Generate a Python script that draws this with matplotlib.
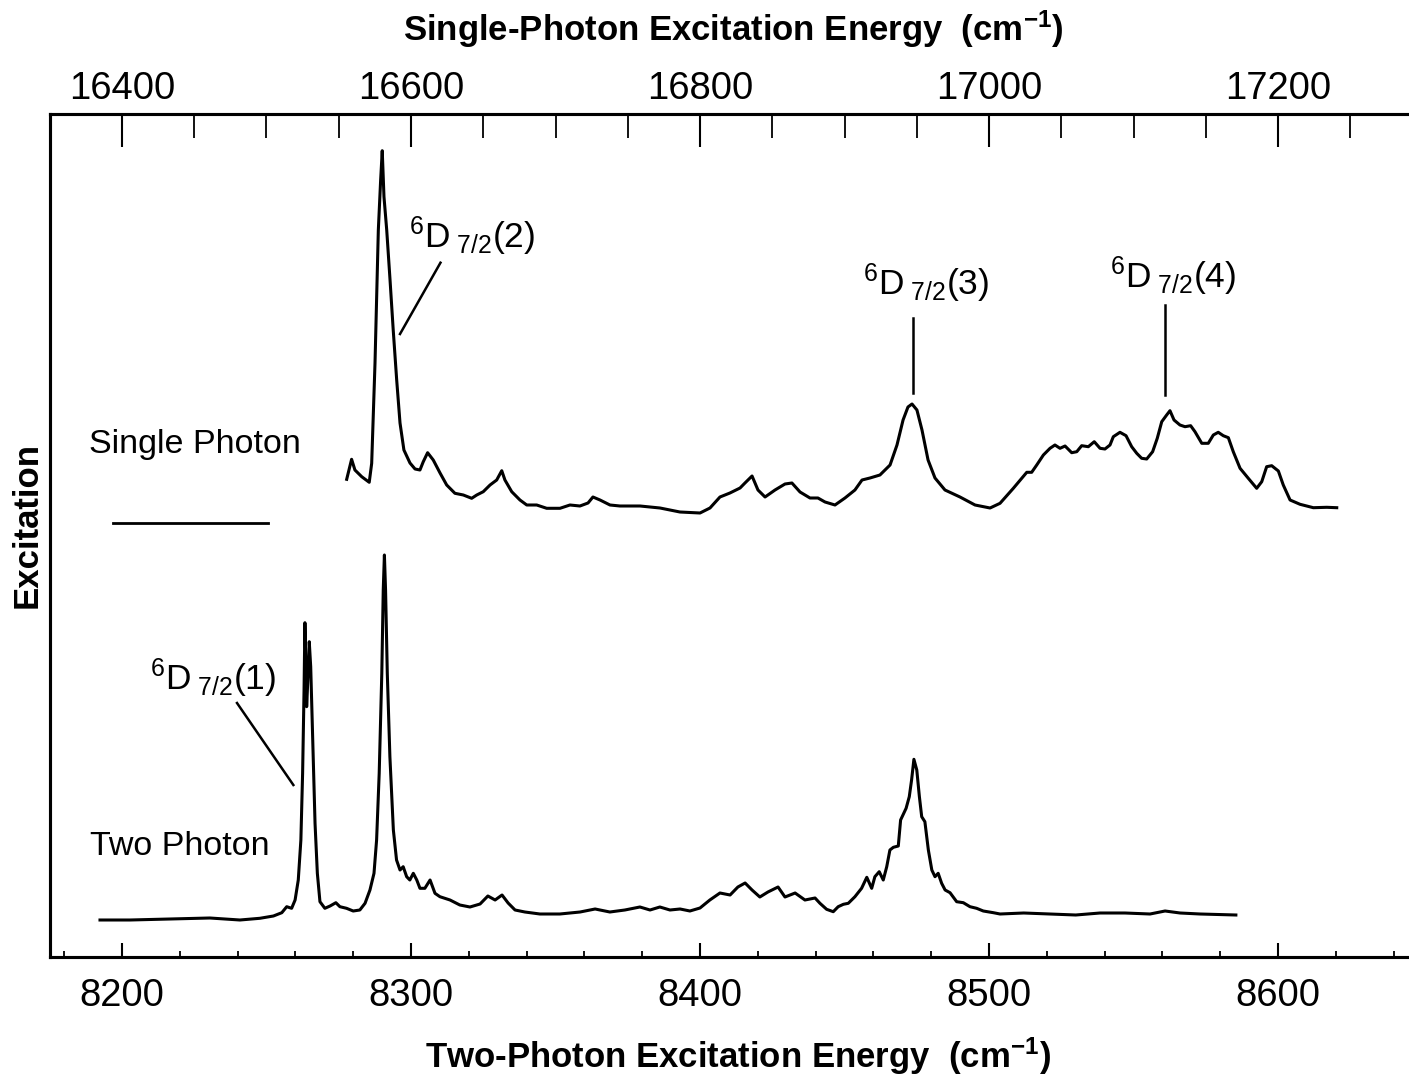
import numpy as np
import matplotlib
matplotlib.use('Agg')
import matplotlib.pyplot as plt
from matplotlib.ticker import FixedLocator

plt.rcParams['font.family'] = ['Liberation Sans', 'DejaVu Sans']
plt.rcParams['mathtext.fontset'] = 'custom'
plt.rcParams['mathtext.rm'] = 'Liberation Sans'
plt.rcParams['mathtext.default'] = 'regular'

# ---------------- data ----------------
# Single-photon spectrum: energy in cm-1 (single-photon scale), signal in arb. units
single_energy = [16555.5, 16558.9, 16561.2, 16565.9, 16571.1, 16572.8, 16575.1, 16577.4, 16579.0, 16580.1,
                 16581.3, 16583.2, 16585.5, 16587.7, 16590.1, 16592.4, 16595.1, 16599.3, 16602.8, 16606.2,
                 16608.5, 16611.5, 16615.4, 16620.1, 16624.7, 16630.4, 16636.2, 16642.0, 16645.5, 16650.0,
                 16654.7, 16659.3, 16662.8, 16665.0, 16669.7, 16675.4, 16680.1, 16687.0, 16693.9, 16703.1,
                 16710.0, 16716.9, 16722.5, 16725.9, 16730.8, 16737.7, 16744.6, 16758.5, 16772.3, 16786.1,
                 16800.0, 16806.9, 16813.8, 16820.7, 16827.7, 16831.1, 16836.0, 16840.1, 16845.0, 16851.9,
                 16858.8, 16863.6, 16869.2, 16876.1, 16881.6, 16886.5, 16893.4, 16900.3, 16907.2, 16912.1,
                 16917.6, 16924.5, 16931.5, 16936.3, 16940.5, 16943.9, 16946.7, 16950.1, 16953.6, 16957.8,
                 16962.6, 16969.5, 16979.9, 16990.3, 17000.7, 17007.6, 17016.8, 17026.1, 17029.5, 17033.0,
                 17037.6, 17042.2, 17045.6, 17049.1, 17052.6, 17057.2, 17060.7, 17064.1, 17068.7, 17072.8,
                 17076.8, 17080.2, 17083.7, 17086.0, 17090.6, 17094.8, 17098.7, 17102.2, 17105.6, 17109.1,
                 17113.2, 17116.4, 17119.5, 17122.9, 17125.2, 17128.0, 17132.1, 17135.6, 17139.5, 17142.5,
                 17147.2, 17151.7, 17155.2, 17158.6, 17162.1, 17165.6, 17169.0, 17173.7, 17179.4, 17185.2,
                 17188.7, 17192.1, 17195.6, 17200.2, 17203.6, 17208.3, 17215.2, 17224.4, 17233.7, 17240.6]
single_signal = [477.7, 497.7, 487.0, 480.3, 474.7, 493.7, 594.0, 727.0, 777.0, 806.3,
                 760.3, 727.0, 677.0, 627.0, 577.0, 534.0, 507.0, 494.0, 488.0, 487.0,
                 495.3, 504.3, 497.0, 484.0, 472.0, 463.7, 462.0, 458.7, 462.0, 465.3,
                 472.0, 477.0, 486.3, 477.0, 465.3, 457.0, 452.0, 452.0, 448.7, 448.7,
                 452.0, 451.0, 454.0, 460.0, 457.0, 452.0, 451.0, 451.0, 449.0, 445.0,
                 444.0, 449.0, 460.0, 464.0, 469.0, 474.0, 481.0, 467.0, 460.0, 467.0,
                 473.0, 474.0, 465.0, 459.0, 459.0, 455.0, 452.0, 459.0, 467.0, 477.0,
                 479.0, 482.0, 492.0, 512.0, 537.0, 550.0, 553.0, 547.0, 527.0, 497.0,
                 479.0, 467.0, 460.0, 452.0, 449.0, 453.7, 468.7, 484.7, 484.7, 492.0,
                 502.0, 508.7, 512.0, 508.7, 511.0, 504.3, 505.3, 511.3, 510.3, 515.3,
                 508.7, 508.0, 512.0, 520.3, 524.7, 521.3, 510.3, 503.7, 498.7, 498.0,
                 505.3, 518.7, 535.3, 542.0, 546.3, 537.0, 532.0, 530.3, 531.3, 525.3,
                 513.7, 513.7, 522.0, 524.7, 521.3, 519.3, 505.3, 488.7, 478.7, 468.7,
                 475.3, 490.3, 491.3, 486.0, 472.0, 457.0, 452.7, 449.3, 449.7, 449.3]

# Two-photon spectrum: energy in cm-1 (two-photon scale), signal in arb. units
two_energy = [8192.4, 8202.8, 8216.6, 8230.4, 8240.8, 8247.7, 8252.4, 8255.3, 8257.0, 8258.7,
              8259.9, 8261.0, 8261.9, 8262.5, 8263.0, 8263.3, 8263.7, 8263.9, 8264.5, 8264.8,
              8265.3, 8266.0, 8266.8, 8267.6, 8268.5, 8270.2, 8272.0, 8274.0, 8275.4, 8277.7,
              8280.0, 8282.3, 8284.1, 8285.8, 8287.2, 8288.1, 8289.0, 8289.9, 8290.4, 8290.8,
              8291.2, 8291.8, 8292.7, 8293.9, 8295.0, 8296.2, 8297.3, 8298.5, 8299.6, 8300.8,
              8302.0, 8303.1, 8304.8, 8306.6, 8308.3, 8310.0, 8313.5, 8316.9, 8320.4, 8323.9,
              8326.6, 8329.1, 8331.5, 8333.6, 8336.0, 8339.4, 8344.6, 8351.5, 8358.5, 8363.7,
              8368.8, 8374.0, 8379.2, 8382.7, 8386.1, 8389.6, 8393.1, 8396.5, 8400.0, 8403.4,
              8406.9, 8410.4, 8413.1, 8415.6, 8418.0, 8420.7, 8423.5, 8427.0, 8429.4, 8432.9,
              8436.3, 8439.8, 8441.5, 8443.8, 8446.1, 8447.8, 8449.6, 8451.3, 8453.6, 8455.9,
              8457.7, 8459.4, 8460.5, 8462.0, 8463.4, 8464.6, 8465.7, 8466.9, 8468.6, 8469.4,
              8471.3, 8472.4, 8473.2, 8474.0, 8475.0, 8475.9, 8476.7, 8477.8, 8479.0, 8480.2,
              8481.3, 8482.4, 8483.6, 8484.8, 8486.5, 8488.8, 8491.1, 8493.4, 8495.7, 8498.0,
              8501.5, 8503.8, 8512.0, 8521.1, 8530.0, 8538.4, 8547.0, 8555.7, 8560.9, 8566.1,
              8573.0, 8585.4]
two_signal = [37.0, 37.0, 38.0, 39.0, 37.0, 38.7, 41.0, 44.3, 50.3, 48.7,
              57.0, 77.0, 117.0, 183.7, 267.0, 334.3, 283.7, 250.3, 290.3, 315.3,
              290.3, 217.0, 133.7, 83.7, 55.3, 48.7, 51.0, 54.3, 50.3, 48.7,
              46.0, 47.0, 53.7, 67.0, 83.7, 117.0, 183.7, 283.7, 367.0, 402.0,
              367.0, 283.7, 200.3, 127.0, 97.0, 87.0, 90.3, 80.3, 77.0, 83.7,
              77.0, 68.7, 68.7, 77.0, 63.7, 60.3, 57.0, 52.0, 50.0, 53.0,
              61.0, 57.0, 62.0, 54.0, 47.0, 45.0, 43.0, 43.0, 45.0, 48.0,
              45.0, 47.0, 50.0, 47.0, 50.0, 47.0, 48.0, 46.0, 49.0, 57.0,
              64.0, 62.0, 70.0, 74.0, 67.0, 60.0, 65.0, 70.0, 60.0, 64.0,
              57.0, 59.0, 53.7, 47.7, 45.3, 50.3, 52.7, 53.7, 60.3, 68.7,
              79.7, 68.7, 80.3, 85.3, 77.0, 90.3, 107.0, 109.7, 111.0, 137.0,
              148.7, 160.3, 177.0, 197.7, 187.0, 160.3, 140.3, 135.3, 107.0, 87.0,
              80.3, 83.7, 73.7, 67.0, 64.3, 55.3, 54.3, 50.3, 48.7, 46.0,
              44.3, 43.0, 44.0, 43.0, 42.0, 44.0, 44.0, 43.0, 46.0, 44.0,
              43.0, 42.0]

# tick positions / labels
two_major_ticks = [8200, 8300, 8400, 8500, 8600]
two_minor_ticks = [8180 + 20 * i for i in range(24)]
single_major_ticks = [16400, 16600, 16800, 17000, 17200]
single_minor_ticks = [16400 + 50 * i for i in range(18)]
x_range = (8175.1, 8645.3)
y_range = (0, 843)

title_text = 'Single-Photon Excitation Energy  (cm$^{-1}$)'
xlabel_text = 'Two-Photon Excitation Energy  (cm$^{-1}$)'
ylabel_text = 'Excitation'

# ---------------- figure ----------------
W, H = 1409, 1080
fig = plt.figure(figsize=(W / 100, H / 100), dpi=100)
ax = fig.add_axes([50 / W, 1 - 957 / H, 1 - 50 / W, (957 - 114) / H])
ax.set_xlim(*x_range)
ax.set_ylim(*y_range)

lw = 2.2
ax.plot(two_energy, two_signal, color='black', lw=lw, solid_joinstyle='round')

# top axis: single-photon energy = 2 x two-photon energy
ax_top = ax.twiny()
ax_top.set_xlim(2 * x_range[0], 2 * x_range[1])
ax_top.plot(single_energy, single_signal, color='black', lw=lw, solid_joinstyle='round')

for a in (ax, ax_top):
    for sp in ['left', 'bottom', 'top']:
        a.spines[sp].set_linewidth(2.2)
    a.spines['right'].set_visible(False)
    a.set_yticks([])

ax.xaxis.set_major_locator(FixedLocator(two_major_ticks))
ax.xaxis.set_minor_locator(FixedLocator(two_minor_ticks))
ax.tick_params(axis='x', which='major', direction='in', length=10, width=1.5,
               labelsize=27.5, pad=15, top=False)
ax.tick_params(axis='x', which='minor', direction='in', length=4.5, width=1.3, top=False)

ax_top.xaxis.set_major_locator(FixedLocator(single_major_ticks))
ax_top.xaxis.set_minor_locator(FixedLocator(single_minor_ticks))
ax_top.tick_params(axis='x', which='major', direction='in', length=24, width=1.5,
                   labelsize=27.5, pad=5, bottom=False)
ax_top.tick_params(axis='x', which='minor', direction='in', length=17, width=1.3, bottom=False)

# axis titles
fig.text(733 / W, 1 - 41 / H, title_text, ha='center', va='baseline',
         fontsize=25, fontweight='bold')
fig.text(738 / W, 1 - 1068 / H, xlabel_text, ha='center', va='baseline',
         fontsize=25, fontweight='bold')
fig.text(27 / W, 1 - 525 / H, ylabel_text, ha='center', va='center', rotation=90,
         fontsize=25, fontweight='bold')

# curve labels
ax.text(8188.6, 504.3, 'Single Photon', fontsize=24.5, ha='left', va='baseline')
ax.text(8188.9, 102.0, 'Two Photon', fontsize=24.5, ha='left', va='baseline')
ax.plot([8196.9, 8250.5], [433.7, 433.7], color='black', lw=2.0)

# state annotations
ann_lw = 1.8
ann_fs = 25.5
ax.text(8299.3, 709, r'$^{6}$D$_{\;7/2}$(2)', fontsize=ann_fs, ha='left', va='baseline')
ax.plot([8310.2, 8296.2], [694.3, 623.0], color='black', lw=ann_lw)

ax.text(8456.4, 662, r'$^{6}$D$_{\;7/2}$(3)', fontsize=ann_fs, ha='left', va='baseline')
ax.plot([8473.7, 8473.7], [639, 564], color='black', lw=ann_lw)

ax.text(8541.9, 669, r'$^{6}$D$_{\;7/2}$(4)', fontsize=ann_fs, ha='left', va='baseline')
ax.plot([8560.9, 8560.9], [652, 562], color='black', lw=ann_lw)

ax.text(8209.7, 267, r'$^{6}$D$_{\;7/2}$(1)', fontsize=ann_fs, ha='left', va='baseline')
ax.plot([8239.8, 8259.3], [254, 172], color='black', lw=ann_lw)

fig.savefig('out.png', dpi=100)
